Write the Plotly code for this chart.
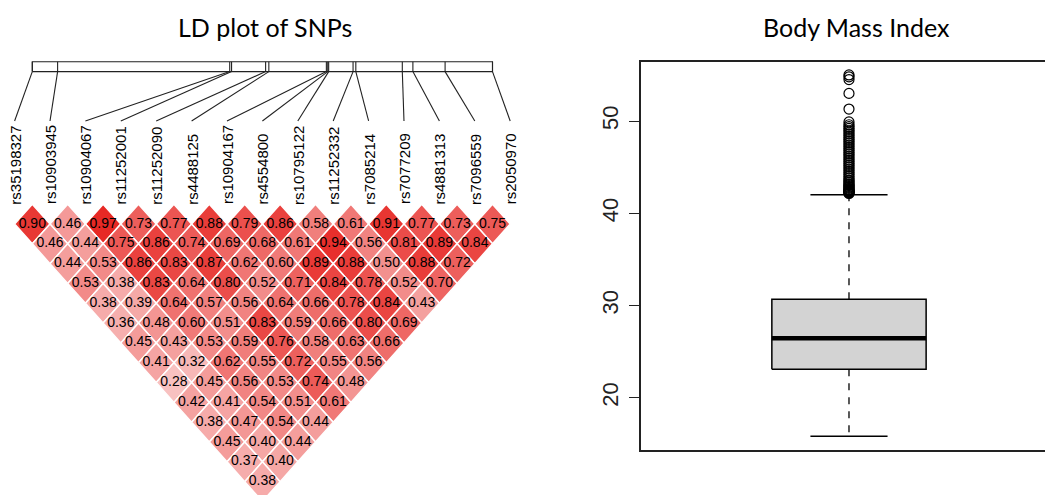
import plotly.graph_objects as go

# SNP names and their relative positions along the region (kb from first SNP)
snps = ["rs35198327", "rs10903945", "rs10904067", "rs11252001", "rs11252090",
        "rs4488125", "rs10904167", "rs4554800", "rs10795122", "rs11252332",
        "rs7085214", "rs7077209", "rs4881313", "rs7096559", "rs2050970"]
snp_pos_kb = [0.0, 5.5, 42.9, 43.3, 50.7, 51.4, 63.9, 64.2, 64.4, 69.7,
              70.3, 80.4, 82.7, 89.7, 100.0]

# Pairwise LD: ld_by_lag[k-1][i] is the value between SNP i and SNP i+k
ld_by_lag = [
    [0.90, 0.46, 0.97, 0.73, 0.77, 0.88, 0.79, 0.86, 0.58, 0.61, 0.91, 0.77, 0.73, 0.75],
    [0.46, 0.44, 0.75, 0.86, 0.74, 0.69, 0.68, 0.61, 0.94, 0.56, 0.81, 0.89, 0.84],
    [0.44, 0.53, 0.86, 0.83, 0.87, 0.62, 0.60, 0.89, 0.88, 0.50, 0.88, 0.72],
    [0.53, 0.38, 0.83, 0.64, 0.80, 0.52, 0.71, 0.84, 0.78, 0.52, 0.70],
    [0.38, 0.39, 0.64, 0.57, 0.56, 0.64, 0.66, 0.78, 0.84, 0.43],
    [0.36, 0.48, 0.60, 0.51, 0.83, 0.59, 0.66, 0.80, 0.69],
    [0.45, 0.43, 0.53, 0.59, 0.76, 0.58, 0.63, 0.66],
    [0.41, 0.32, 0.62, 0.55, 0.72, 0.55, 0.56],
    [0.28, 0.45, 0.56, 0.53, 0.74, 0.48],
    [0.42, 0.41, 0.54, 0.51, 0.61],
    [0.38, 0.47, 0.54, 0.44],
    [0.45, 0.40, 0.44],
    [0.37, 0.40],
    [0.38],
]

# Body mass index summary
bmi_q1 = 23.08
bmi_median = 26.46
bmi_q3 = 30.69
bmi_whisker_low = 15.81
bmi_whisker_high = 42.02
bmi_outliers = [42.15, 42.2, 42.25, 42.3, 42.35, 42.4, 42.45, 42.5, 42.6, 42.7,
                42.8, 42.9, 43.0, 43.1, 43.2, 43.35, 43.5, 43.6, 43.8, 44.0,
                44.2, 44.4, 44.6, 44.8, 45.0, 45.2, 45.4, 45.6, 45.8, 46.0,
                46.2, 46.4, 46.6, 46.8, 47.0, 47.2, 47.4, 47.6, 47.8, 48.0,
                48.2, 48.4, 48.6, 48.8, 49.0, 49.2, 49.4, 49.6, 49.9,
                51.3, 53.0, 54.5, 54.8, 55.0]

RED = (230, 34, 30)


def ld_color(v):
    r = round(255 - v * (255 - RED[0]))
    g = round(255 - v * (255 - RED[1]))
    b = round(255 - v * (255 - RED[2]))
    return f"rgb({r},{g},{b})"


fig = go.Figure()

n = len(snps)
cell_x, cell_y, cell_txt = [], [], []
for lag, row in enumerate(ld_by_lag, start=1):
    for i, v in enumerate(row):
        j = i + lag
        cx, cy = (i + j) / 2, -lag
        fig.add_trace(go.Scatter(
            x=[cx - 0.5, cx, cx + 0.5, cx, cx - 0.5],
            y=[cy, cy + 1, cy, cy - 1, cy],
            mode="lines", fill="toself", fillcolor=ld_color(v),
            line=dict(color="white", width=1.5),
            hoverinfo="skip", showlegend=False, xaxis="x", yaxis="y"))
        cell_x.append(cx)
        cell_y.append(cy)
        cell_txt.append(f"{v:.2f}")

fig.add_trace(go.Scatter(
    x=cell_x, y=cell_y, text=cell_txt, mode="text",
    textfont=dict(family="Liberation Sans, Arial", size=14, color="black"),
    hoverinfo="skip", showlegend=False, xaxis="x", yaxis="y"))

# Gene map bar across the top, with connector lines to each SNP label
bar_lo, bar_hi = 6.69, 7.19
label_top = 4.2
span = snp_pos_kb[-1] - snp_pos_kb[0]


def bar_x(p):
    return 0.5 + (p - snp_pos_kb[0]) / span * (n - 2)


seg_x, seg_y = [], []
seg_x += [0.5, n - 1.5, n - 1.5, 0.5, 0.5, None]
seg_y += [bar_lo, bar_lo, bar_hi, bar_hi, bar_lo, None]
for i, p in enumerate(snp_pos_kb):
    bx = bar_x(p)
    seg_x += [bx, bx, None, bx, i, None]
    seg_y += [bar_hi, bar_lo, None, bar_lo, label_top, None]
fig.add_trace(go.Scatter(
    x=seg_x, y=seg_y, mode="lines", line=dict(color="#222", width=1.1),
    hoverinfo="skip", showlegend=False, xaxis="x", yaxis="y"))

for i, name in enumerate(snps):
    fig.add_annotation(
        x=i, y=-0.12, xref="x", yref="y", text=name, showarrow=False,
        textangle=-90, xanchor="center", yanchor="bottom",
        font=dict(family="Liberation Sans, Arial", size=15, color="black"))

# Boxplot of BMI drawn from its summary values
bw, cw = 0.2, 0.1
box_line = dict(color="black", width=1.5)
fig.add_trace(go.Scatter(
    x=[1 - bw, 1 + bw, 1 + bw, 1 - bw, 1 - bw],
    y=[bmi_q1, bmi_q1, bmi_q3, bmi_q3, bmi_q1],
    mode="lines", fill="toself", fillcolor="rgb(211,211,211)", line=box_line,
    hoverinfo="skip", showlegend=False, xaxis="x2", yaxis="y2"))
fig.add_trace(go.Scatter(
    x=[1 - bw, 1 + bw], y=[bmi_median, bmi_median], mode="lines",
    line=dict(color="black", width=4.5),
    hoverinfo="skip", showlegend=False, xaxis="x2", yaxis="y2"))
fig.add_trace(go.Scatter(
    x=[1, 1, None, 1, 1], y=[bmi_q3, bmi_whisker_high, None, bmi_q1, bmi_whisker_low],
    mode="lines", line=dict(color="black", width=1.3, dash="7px,7px"),
    hoverinfo="skip", showlegend=False, xaxis="x2", yaxis="y2"))
fig.add_trace(go.Scatter(
    x=[1 - cw, 1 + cw, None, 1 - cw, 1 + cw],
    y=[bmi_whisker_high, bmi_whisker_high, None, bmi_whisker_low, bmi_whisker_low],
    mode="lines", line=box_line,
    hoverinfo="skip", showlegend=False, xaxis="x2", yaxis="y2"))
fig.add_trace(go.Scatter(
    x=[1] * len(bmi_outliers), y=bmi_outliers, mode="markers",
    marker=dict(symbol="circle-open", size=10, color="black", line=dict(width=1.2)),
    hoverinfo="skip", showlegend=False, xaxis="x2", yaxis="y2", cliponaxis=False))

title_font = dict(family="Lato, Open Sans", size=25, color="black")
fig.add_annotation(x=265 / 1045, y=(495 - 27) / 495, xref="paper", yref="paper",
                   text="LD plot of SNPs", showarrow=False, font=title_font,
                   xanchor="center", yanchor="middle")
fig.add_annotation(x=856 / 1045, y=(495 - 27) / 495, xref="paper", yref="paper",
                   text="Body Mass Index", showarrow=False, font=title_font,
                   xanchor="center", yanchor="middle")

fig.update_layout(
    width=1045, height=495,
    margin=dict(l=0, r=0, t=0, b=0),
    paper_bgcolor="white", plot_bgcolor="white",
    xaxis=dict(domain=[0, 520 / 1045], range=[-14.6 / 35.4, (520 - 14.6) / 35.4],
               visible=False, fixedrange=True),
    yaxis=dict(domain=[0, 1], range=[(204.2 - 495) / 19.82, 204.2 / 19.82],
               visible=False, fixedrange=True),
    xaxis2=dict(domain=[640.7 / 1045, 1], range=[0.46, 1 + (1045 - 849) / 385.7],
                showline=True, mirror=True, linecolor="#222", linewidth=1.5,
                showgrid=False, zeroline=False, showticklabels=False, ticks="",
                anchor="y2"),
    yaxis2=dict(domain=[45 / 495, (495 - 62.3) / 495], range=[14.33, 56.37],
                showline=True, linecolor="#222", linewidth=1.5,
                showgrid=False, zeroline=False, ticks="outside", ticklen=10,
                tickwidth=1.3, tickcolor="#222", tickvals=[20, 30, 40, 50],
                tickangle=-90, ticklabelstandoff=2,
                tickfont=dict(family="Liberation Sans, Arial", size=22, color="#222"),
                anchor="x2"),
)

fig.write_html("out.html")
